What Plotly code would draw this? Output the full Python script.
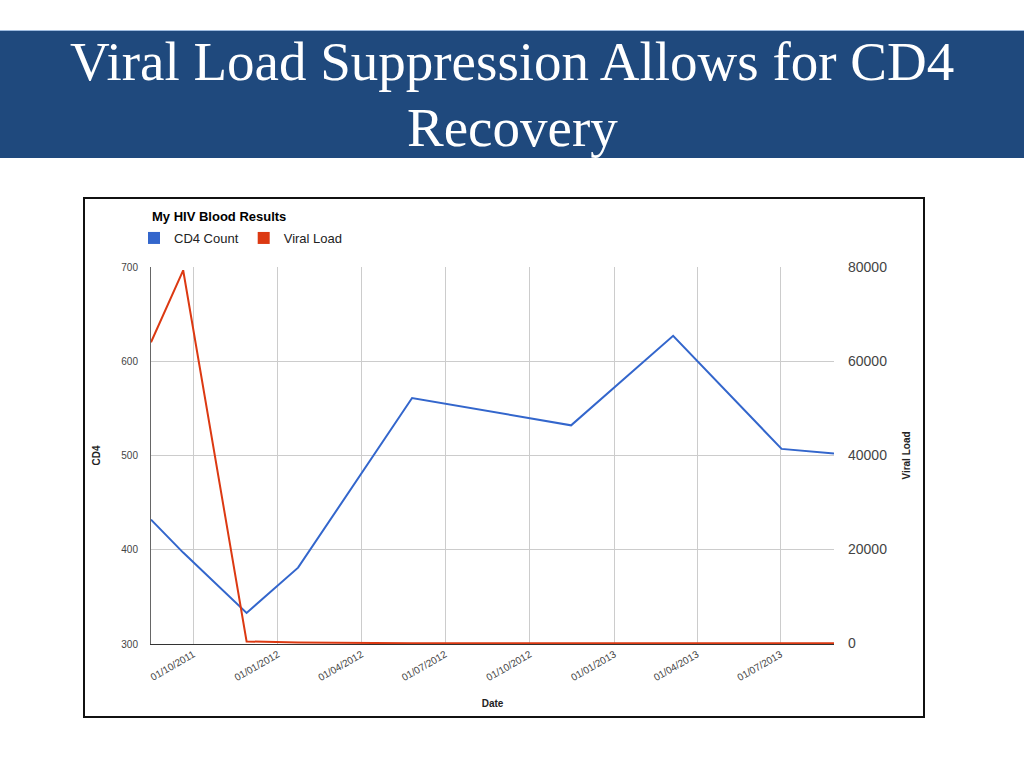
import plotly.graph_objects as go

# ---- data ----
dates = ["2011-08-16", "2011-09-20", "2011-11-28", "2012-01-23", "2012-05-26",
         "2012-11-15", "2013-03-06", "2013-07-02", "2013-08-28"]
cd4_count = [432, 397, 333, 381, 561, 532, 627, 507, 502]
viral_load = [64000, 79300, 400, 150, 20, 20, 20, 20, 20]

series_names = ["CD4 Count", "Viral Load"]
series_colors = ["#3366cc", "#dc3912"]

slide_title_lines = ["Viral Load Suppression Allows for CD4", "Recovery"]
chart_title = "My HIV Blood Results"

W, H = 1024, 768


def px_y(y):
    return 1 - y / H


def px_x(x):
    return x / W


fig = go.Figure()

fig.add_trace(go.Scatter(x=dates, y=cd4_count, mode="lines", name=series_names[0],
                         line=dict(color=series_colors[0], width=2), showlegend=False,
                         yaxis="y"))
fig.add_trace(go.Scatter(x=dates, y=viral_load, mode="lines", name=series_names[1],
                         line=dict(color=series_colors[1], width=2), showlegend=False,
                         yaxis="y2"))

# legend entries drawn as squares (as in the reference)
for nm, col in zip(series_names, series_colors):
    fig.add_trace(go.Scatter(x=[None], y=[None], mode="markers", name=nm,
                             marker=dict(symbol="square", size=12, color=col),
                             showlegend=True))

font_sans = "Liberation Sans, Arial, sans-serif"

fig.update_layout(
    template="none",
    width=W, height=H,
    margin=dict(l=0, r=0, t=0, b=0),
    paper_bgcolor="white",
    plot_bgcolor="white",
    font=dict(family=font_sans, color="#444"),
    showlegend=True,
    legend=dict(orientation="h", x=px_x(134), y=px_y(238), xanchor="left", yanchor="middle",
                font=dict(size=13, color="#222", family=font_sans),
                bgcolor="rgba(0,0,0,0)", itemclick=False, tracegroupgap=0),
    xaxis=dict(
        type="date",
        domain=[px_x(151), px_x(834)],
        range=[dates[0], dates[-1]],
        tick0="2011-10-01", dtick="M3", tickformat="%d/%m/%Y",
        tickangle=-30,
        tickfont=dict(size=10, color="#444"),
        showgrid=True, gridcolor="#cccccc", gridwidth=1,
        showline=True, linecolor="#333333", linewidth=1,
        layer="below traces",
        zeroline=False, ticks="", automargin=False,
        title=dict(text="<b>Date</b>", font=dict(size=10, color="#222"), standoff=17),
    ),
    yaxis=dict(
        domain=[px_y(644), px_y(267)],
        range=[300, 700], dtick=100,
        tickfont=dict(size=10, color="#444"),
        showgrid=True, gridcolor="#cccccc", gridwidth=1,
        showline=True, linecolor="#666666", linewidth=1,
        layer="below traces",
        zeroline=False, ticks="", ticklabelstandoff=10, automargin=False,
        title=dict(text="<b>CD4</b>", font=dict(size=10, color="#222"), standoff=18),
    ),
    yaxis2=dict(
        overlaying="y", side="right", anchor="x",
        range=[-150, 80000], dtick=20000, tick0=0, tickformat="d",
        tickfont=dict(size=14, color="#444"),
        showgrid=False, showline=False, zeroline=False, ticks="",
        ticklabelstandoff=13, automargin=False,
        title=dict(text="<b>Viral Load</b>", font=dict(size=10, color="#222"), standoff=16),
    ),
)

# slide banner
fig.add_shape(type="rect", xref="paper", yref="paper",
              x0=0, x1=1, y0=px_y(158), y1=px_y(30),
              fillcolor="#1f497d", line=dict(width=0), layer="below")
fig.add_shape(type="line", xref="paper", yref="paper",
              x0=0, x1=1, y0=px_y(30.5), y1=px_y(30.5),
              line=dict(color="#9dbbe0", width=1), layer="below")

for line_text, yc in zip(slide_title_lines, [61, 128]):
    fig.add_annotation(text=line_text, xref="paper", yref="paper",
                       x=0.5, y=px_y(yc), xanchor="center", yanchor="middle",
                       showarrow=False, align="center",
                       font=dict(family="Liberation Serif, Times New Roman, serif",
                                 size=55, color="white"))

# chart frame
fig.add_shape(type="rect", xref="paper", yref="paper",
              x0=px_x(84), x1=px_x(924), y0=px_y(717), y1=px_y(198),
              line=dict(color="#111111", width=2), fillcolor="rgba(0,0,0,0)")

fig.add_annotation(text="<b>" + chart_title + "</b>", xref="paper", yref="paper",
                   x=px_x(150), y=px_y(216), xanchor="left", yanchor="middle",
                   showarrow=False,
                   font=dict(family=font_sans, size=13, color="#000"))

fig.write_html("out.html", config={"displayModeBar": False},
               post_script="document.body.style.margin='0';")
